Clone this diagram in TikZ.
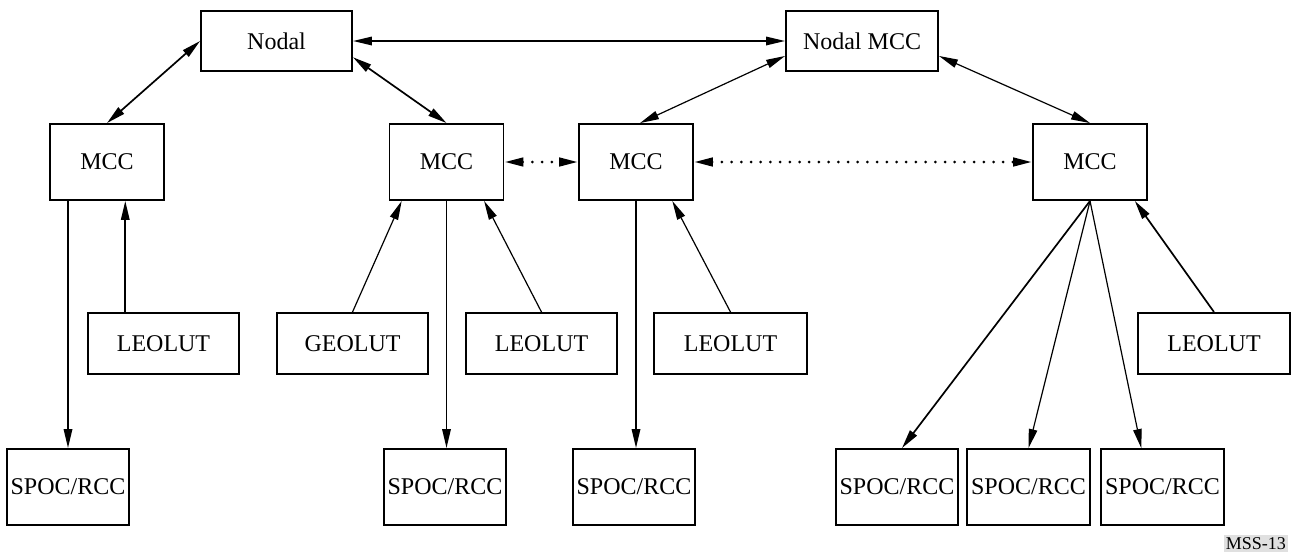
\documentclass[tikz,border=0pt]{standalone}
\usepackage{fontspec}
\setmainfont{Liberation Serif}
\usetikzlibrary{arrows.meta,calc}

\begin{document}
\begin{tikzpicture}[x=1pt,y=-1pt,
  box/.style={draw,line width=1.9pt,inner sep=0pt,font=\fontsize{24}{26}\selectfont},
  topbox/.style={box,minimum width=151pt,minimum height=60pt},
  mccbox/.style={box,minimum width=114pt,minimum height=76pt},
  lutbox/.style={box,minimum width=151pt,minimum height=61pt},
  rccbox/.style={box,minimum width=122pt,minimum height=76pt},
  tip/.style={-{Triangle[length=19pt,width=8.5pt]}},
  both/.style={{Triangle[length=19pt,width=8.5pt]}-{Triangle[length=19pt,width=8.5pt]}},
  heavy/.style={line width=1.7pt},
  light/.style={line width=1.2pt},
  dots/.style={line width=3pt,line cap=round,dash pattern=on 0pt off 9.7pt}]

\useasboundingbox (0,0) rectangle (1292,552);

% hub level
\node[topbox] (nodal) at (276.5,41) {Nodal};
\node[topbox,minimum width=152pt] (nmcc) at (862,41) {Nodal MCC};

% mission control centres
\node[mccbox] (mcc1) at (107,162) {MCC};
\node[mccbox] (mcc2) at (446.5,162) {MCC};
\node[mccbox] (mcc3) at (636,162) {MCC};
\node[mccbox] (mcc4) at (1090,162) {MCC};

% ground stations
\node[lutbox] (leo1) at (163.5,343.5) {LEOLUT};
\node[lutbox] (geo)  at (352.5,343.5) {GEOLUT};
\node[lutbox] (leo2) at (541.5,343.5) {LEOLUT};
\node[lutbox,minimum width=153pt] (leo3) at (730.5,343.5) {LEOLUT};
\node[lutbox,minimum width=152pt] (leo4) at (1214,343.5) {LEOLUT};

% SPOC / RCC level
\node[rccbox] (spoc1) at (68,487) {SPOC/RCC};
\node[rccbox] (spoc2) at (445,487) {SPOC/RCC};
\node[rccbox] (spoc3) at (634,487) {SPOC/RCC};
\node[rccbox] (spoc4) at (897,487) {SPOC/RCC};
\node[rccbox,minimum width=123pt] (spoc5) at (1028.5,487) {SPOC/RCC};
\node[rccbox,minimum width=123pt] (spoc6) at (1162.5,487) {SPOC/RCC};

% figure tag
\node[fill=black!12,inner xsep=2pt,inner ysep=2.5pt,anchor=south east,
      font=\fontsize{18}{20}\selectfont] (tag) at (1288,552) {MSS-13};

% links between the nodal centres and their MCCs
\draw[both,heavy] (nodal.east) -- (nmcc.west);
\draw[both,heavy] (nodal.west) -- (mcc1.north);
\draw[both,heavy] (nodal.-12.7) -- (mcc2.north);
\draw[both,light] (nmcc.191.9) -- ([xshift=4pt]mcc3.north);
\draw[both,light] (nmcc.-11.9) -- (mcc4.north);

% MCC to MCC (dotted)
\draw[both,dots] (mcc2.east) -- (mcc3.west);
\draw[both,dots] (mcc3.east) -- (mcc4.west);

% first MCC
\draw[tip,heavy] (mcc1.south -| spoc1.north) -- (spoc1.north);
\draw[tip,heavy] ($(leo1.north west)!0.25!(leo1.north east)$) coordinate (l1)
  -- (l1 |- mcc1.south);

% second MCC
\draw[tip,light] (geo.north) -- (mcc2.221);
\draw[tip,light] (leo2.north) -- (mcc2.-46);
\draw[tip,heavy] (mcc2.south) -- (mcc2.south |- spoc2.north);

% third MCC
\draw[tip,light] (leo3.north) -- (mcc3.-47.4);
\draw[tip,heavy] (mcc3.south) -- (mcc3.south |- spoc3.north);

% fourth MCC
\draw[tip,heavy] (mcc4.south) -- ([xshift=5pt]spoc4.north);
\draw[tip,light] (mcc4.south) -- (spoc5.north);
\draw[tip,light] (mcc4.south) -- ($(spoc6.north west)!0.33!(spoc6.north east)$);
\draw[tip,heavy] (leo4.north) -- (mcc4.-41.5);

\end{tikzpicture}
\end{document}
